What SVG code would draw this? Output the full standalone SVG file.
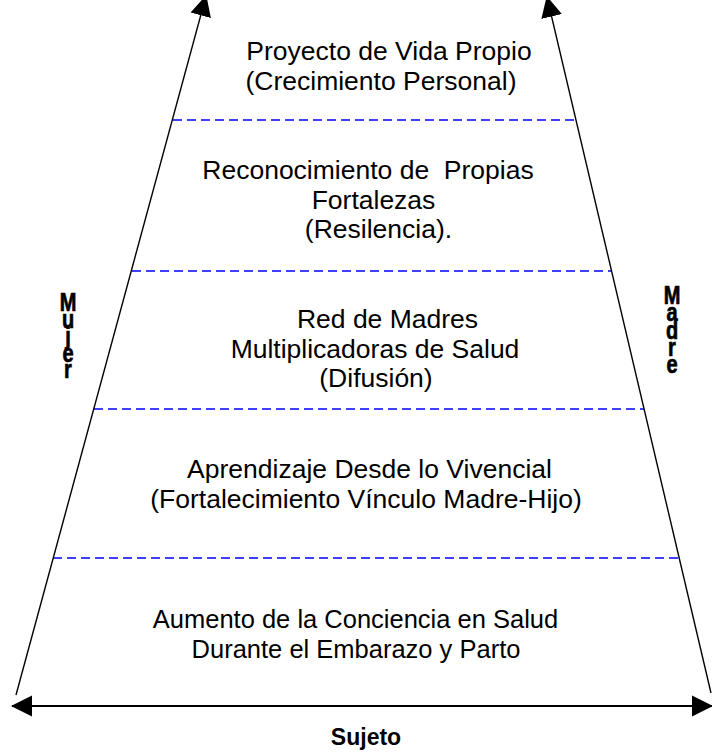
<svg xmlns="http://www.w3.org/2000/svg" width="712" height="753" viewBox="0 0 712 753">
<style>
.t{font-family:"Liberation Sans",Arial,sans-serif;font-size:26.5px;fill:#000;text-anchor:middle}
.s{font-size:25.5px}
.b{font-family:"Liberation Sans",Arial,sans-serif;font-weight:bold;fill:#000;text-anchor:middle}
.v{font-size:25px;stroke:#000;stroke-width:0.7}
.sep{stroke:#0000FF;stroke-width:1.3;stroke-dasharray:9 5;fill:none}
.ax{stroke:#000;stroke-width:1.4;fill:none}
.hx{stroke:#000;stroke-width:2.2;fill:none}
</style>
<defs>
<marker id="ah" markerUnits="userSpaceOnUse" markerWidth="21" markerHeight="22" refX="20" refY="10.5" orient="auto-start-reverse" viewBox="0 0 21 21">
<path d="M0,0 L21,10.5 L0,21 Z" fill="#000"/>
</marker>
</defs>
<rect width="712" height="753" fill="#fff"/>
<g id="separators">
<line class="sep" x1="173" y1="120" x2="577" y2="120"/>
<line class="sep" x1="132" y1="271" x2="612" y2="271"/>
<line class="sep" x1="94" y1="409" x2="644" y2="409"/>
<line class="sep" x1="53" y1="558" x2="681" y2="558"/>
</g>
<g id="connectors">
<line class="ax" x1="16" y1="695" x2="206" y2="-4" marker-end="url(#ah)"/>
<line class="ax" x1="711" y1="693" x2="547" y2="-3" marker-end="url(#ah)"/>
<line class="hx" x1="12" y1="706" x2="712" y2="706" marker-start="url(#ah)" marker-end="url(#ah)"/>
</g>
<g id="level5">
<text class="t" x="389" y="60">Proyecto de Vida Propio</text>
<text class="t" x="381" y="90">(Crecimiento Personal)</text>
</g>
<g id="level4">
<text class="t" x="368" y="179" style="white-space:pre">Reconocimiento de  Propias</text>
<text class="t" x="373.5" y="209">Fortalezas</text>
<text class="t" x="378.5" y="238">(Resilencia).</text>
</g>
<g id="level3">
<text class="t" x="387.5" y="328">Red de Madres</text>
<text class="t" x="375" y="358">Multiplicadoras de Salud</text>
<text class="t" x="376" y="387">(Difusión)</text>
</g>
<g id="level2">
<text class="t" x="369.5" y="478">Aprendizaje Desde lo Vivencial</text>
<text class="t" x="366" y="508">(Fortalecimiento Vínculo Madre-Hijo)</text>
</g>
<g id="level1">
<text class="t s" x="355.5" y="628">Aumento de la Conciencia en Salud</text>
<text class="t s" x="356" y="658">Durante el Embarazo y Parto</text>
</g>
<g id="label-mujer" transform="translate(68,0) scale(0.8,1)">
<text class="b v"><tspan x="0" y="311">M</tspan><tspan x="0" y="328">u</tspan><tspan x="0" y="345">j</tspan><tspan x="0" y="362">e</tspan><tspan x="0" y="378">r</tspan></text>
</g>
<g id="label-madre" transform="translate(672,0) scale(0.8,1)">
<text class="b v"><tspan x="0" y="304">M</tspan><tspan x="0" y="321">a</tspan><tspan x="0" y="339">d</tspan><tspan x="0" y="356">r</tspan><tspan x="0" y="373">e</tspan></text>
</g>
<g id="label-sujeto">
<text class="b" x="366" y="745" style="font-size:23px">Sujeto</text>
</g>
</svg>
